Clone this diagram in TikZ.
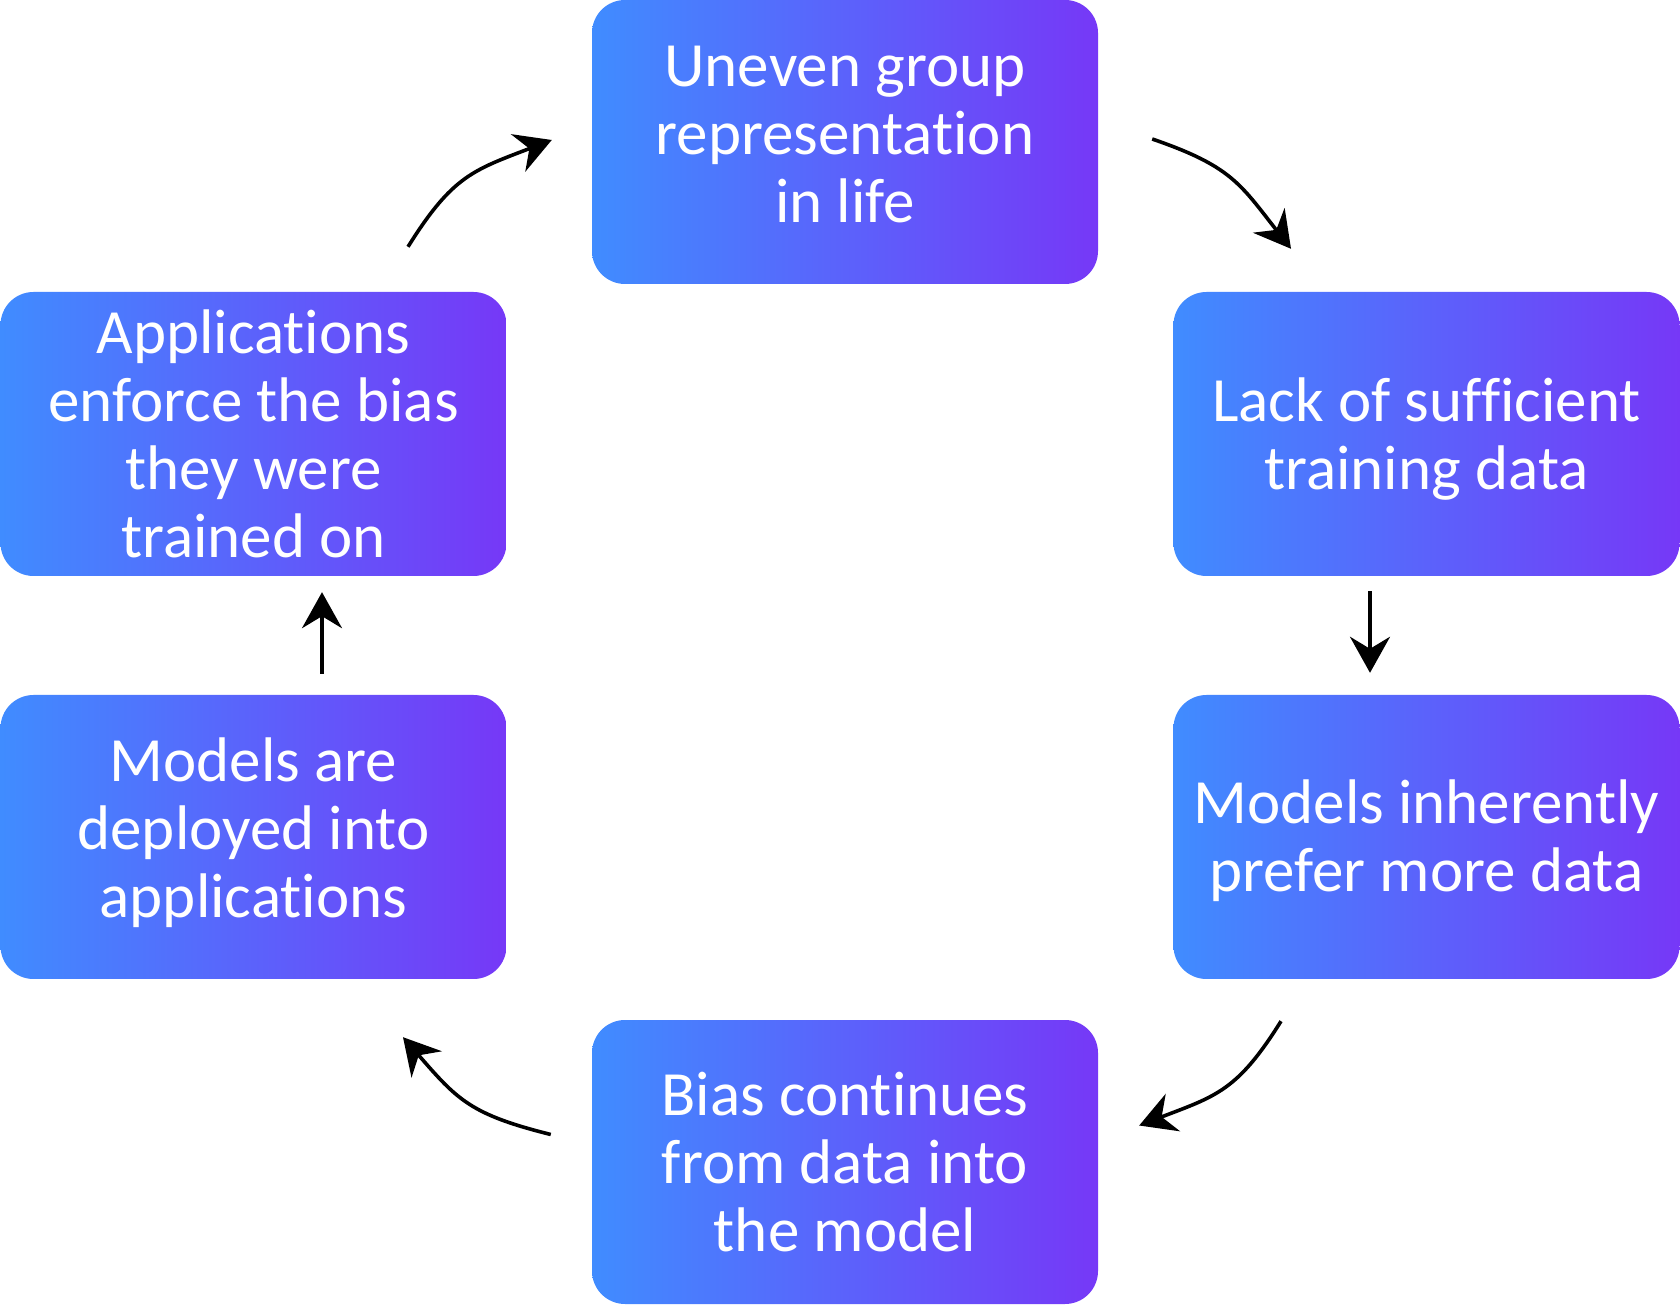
\documentclass[tikz,border=0pt]{standalone}
\usepackage{fontspec}
\setmainfont{Carlito}[Ligatures=NoCommon]
\usetikzlibrary{arrows.meta}
\definecolor{cblue}{HTML}{408CFF}
\definecolor{cpurp}{HTML}{7638F7}
\begin{document}
\begin{tikzpicture}[x=1pt,y=1pt,
  stepbox/.style={rounded corners=33pt, left color=cblue, right color=cpurp, draw=none,
    minimum width=506pt, minimum height=284pt, inner sep=0pt},
  steptext/.style={inner sep=0pt, text=white, align=center,
    font=\fontsize{63}{68}\selectfont},
  flow/.style={line width=3.6pt, looseness=1.2, -{Stealth[length=36pt,width=40pt,inset=12pt]}}]
\useasboundingbox[fill=white] (0,0) rectangle (1680,1304);
\node[stepbox] (top) at (845,1162) {};
\node[stepbox] (ru) at (1426.5,870) {};
\node[stepbox] (rl) at (1426.5,467) {};
\node[stepbox] (bot) at (845,142) {};
\node[stepbox] (ll) at (253.5,467) {};
\node[stepbox] (lu) at (253.5,870) {};
\node[steptext] (toptext) at ([yshift=7.5pt]top.center) {Uneven group\\representation\\in life};
\node[steptext] (rutext) at ([yshift=-5.5pt]ru.center) {Lack of sufficient\\training data};
\node[steptext] (rltext) at ([yshift=-4pt]rl.center) {Models inherently\\prefer more data};
\node[steptext] (bottext) at (bot.center) {Bias continues\\from data into\\the model};
\node[steptext] (lltext) at ([yshift=4pt]ll.center) {Models are\\deployed into\\applications};
\node[steptext] (lutext) at (lu.center) {Applications\\enforce the bias\\they were\\trained on};
\draw[flow] ([xshift=154.5pt,yshift=45pt]lu.north) to[out=58,in=201] ([xshift=-40pt,yshift=2pt]top.west);
\draw[flow] ([xshift=54pt,yshift=3pt]top.east) to[out=-19,in=128] ([xshift=-135.5pt,yshift=43pt]ru.north);
\draw[flow] ([xshift=-56.5pt,yshift=-15pt]ru.south) -- ([xshift=-56.5pt,yshift=22pt]rl.north);
\draw[flow] ([xshift=-145.5pt,yshift=-42pt]rl.south) to[out=238,in=21] ([xshift=41pt,yshift=36.5pt]bot.east);
\draw[flow] ([xshift=-41pt,yshift=27.5pt]bot.west) to[out=166,in=-49] ([xshift=149.5pt,yshift=-58pt]ll.south);
\draw[flow] ([xshift=68.5pt,yshift=21pt]ll.north) -- ([xshift=68.5pt,yshift=-16pt]lu.south);
\end{tikzpicture}
\end{document}
